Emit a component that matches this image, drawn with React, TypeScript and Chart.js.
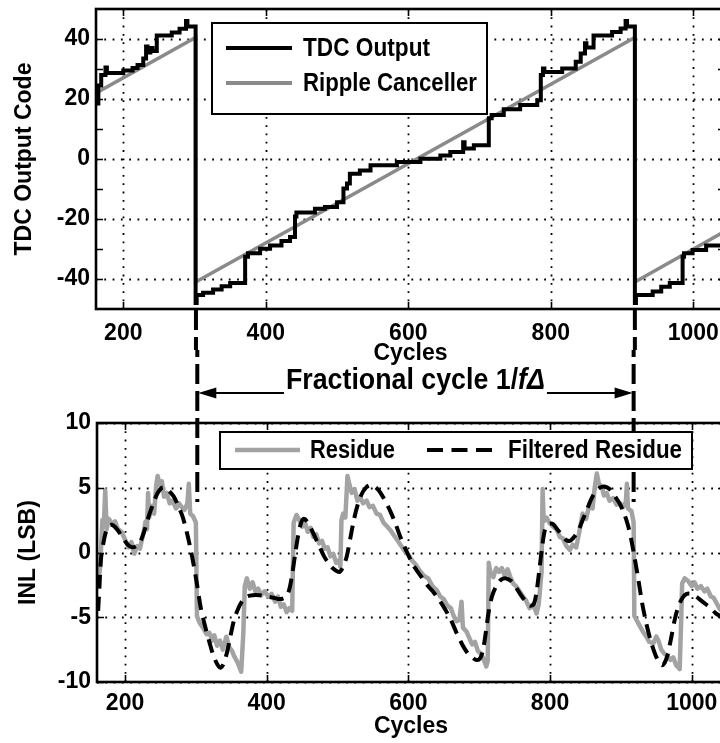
import React, { useEffect, useRef } from "react";
import { Chart, registerables } from "chart.js";

Chart.register(...registerables);

// ---------------- data ----------------
const X_TICKS = [200, 400, 600, 800, 1000];
const TDC_Y_TICKS = [-40, -20, 0, 20, 40];
const TDC_Y_MINOR = [-40, -30, -20, -10, 0, 10, 20, 30, 40];
const INL_Y_TICKS = [-10, -5, 0, 5, 10];

// TDC output (staircase): each code holds from its cycle until the next one
const TDC_CYCLES = [
  162, 165, 169, 175, 177, 200, 213, 220, 228, 232, 234, 238, 241, 247, 268, 279, 288, 290,
  301.5, 303, 312, 326, 338, 350, 371, 375, 392, 406, 422, 434, 441, 443, 469, 483, 500, 509,
  514, 518, 532, 547, 584, 617, 645, 659, 677, 679, 692, 713, 717, 734, 757, 781, 786, 789,
  791, 816, 835, 842, 848, 850, 860, 886, 898, 905, 907, 918, 919.5, 943, 955, 967, 985, 987,
  999, 1018, 1045,
];
const TDC_CODES = [
  18.5, 24.5, 28, 30.5, 28.7, 29.5, 30.3, 31.3, 33.5, 37.5, 35.5, 37, 36, 41.2, 42.2, 43.4, 46, 44.2,
  -48, -45.3, -44.6, -43.5, -42.4, -41.3, -32.6, -31.4, -29.9, -28.8, -27.3, -26, -19.2, -17.8, -16.6, -16, -14.4, -9.8,
  -8.2, -4.9, -3.8, -2.1, -1, 0.1, 1.2, 2.3, 5.6, 3.5, 4.6, 13.6, 14.7, 16.6, 18, 19.6, 28, 30.2,
  29, 30.2, 32.4, 35.2, 38.6, 37.2, 41.2, 42.3, 43.5, 46, 44.2, -48, -45.3, -44.2, -42.6, -41.3, -32.6, -31.4,
  -30.3, -28.8, -28.8,
];

// Ripple canceller (sawtooth)
const CANCELLER_CYCLES = [162, 301.5, 301.5, 918, 918, 1045];
const CANCELLER_CODES = [22, 40.5, -41, 40.5, -41, -24];

// Residue (INL)
const RESIDUE_CYCLES = [
  162, 165, 168, 170, 172, 174, 177, 182, 186, 190, 195, 200, 205, 209, 213, 217, 221, 226, 229, 231,
  232.5, 234, 238, 241, 244, 246, 249, 252, 255, 259, 263, 267, 272, 276, 280, 284, 288, 290, 292, 296,
  300, 301.5, 305, 310, 315, 319, 323, 326, 330, 334, 338, 343, 347, 351, 354, 359, 364, 367, 369, 372,
  376, 380, 384, 388, 392, 397, 402, 407, 412, 416, 420, 424, 428, 432, 436, 438, 442, 446, 450, 454,
  458, 462, 466, 470, 474, 478, 482, 486, 490, 494, 498, 502, 504, 505.5, 508, 511, 514, 517, 520, 524,
  528, 532, 536, 541, 545, 550, 555, 560, 565, 570, 575, 580, 585, 590, 595, 600, 605, 610, 616, 622,
  628, 634, 640, 645, 650, 655, 660, 664, 668, 672, 675, 677, 682, 686, 690, 694, 698, 702, 706, 710,
  712, 713.5, 716, 720, 724, 728, 732, 736, 740, 744, 748, 752, 757, 762, 766, 771, 776, 781, 784, 788,
  789.5, 791, 795, 799, 804, 809, 814, 818, 823, 828, 832, 837, 841, 846, 851, 856, 860, 863, 866, 869,
  873, 876, 880, 884, 889, 894, 899, 903, 907, 908.5, 910, 915, 918, 919, 923, 927, 931, 936, 940, 946,
  950, 953, 957, 961, 966, 970, 974, 978, 983, 985, 986.5, 990, 995, 1000, 1004, 1008, 1013, 1018, 1022, 1027,
  1031, 1035, 1040, 1047,
];
const RESIDUE_INL = [
  -2.5, -1.0, 2.5, 2.0, 4.8, 1.8, 2.6, 2.2, 2.4, 1.8, 1.6, 1.0, 0.4, 0.8, -0.1, 0.5, 0.3, 1.5, 2.4, 1.8,
  4.6, 2.7, 3.6, 3.0, 5.2, 5.9, 5.2, 5.5, 4.3, 4.6, 3.8, 4.0, 3.4, 3.8, 3.5, 3.3, 3.8, 5.3, 3.0, 2.8,
  2.3, -4.9, -5.4, -5.8, -6.3, -6.2, -6.8, -6.4, -7.2, -6.8, -7.5, -6.5, -7.3, -7.6, -8.0, -8.5, -9.2, -6.2, -2.6, -2.0,
  -2.8, -2.3, -3.0, -2.8, -3.3, -3.0, -3.4, -3.2, -3.8, -3.4, -4.2, -4.0, -4.6, -4.3, -4.5, 2.3, 2.9, 2.5, 2.0, 2.3,
  1.6, 1.9, 1.2, 1.4, 0.7, 0.9, 0.3, 0.4, -0.3, -0.1, -0.8, -0.6, -1.1, 2.5, 3.0, 2.7, 5.9, 5.2, 4.6, 4.9,
  4.0, 4.3, 3.8, 4.0, 3.5, 3.6, 3.0, 2.9, 2.3, 2.0, 1.7, 1.3, 0.9, 0.5, 0.1, -0.2, -0.6, -0.9, -1.4, -1.8,
  -2.0, -2.6, -2.9, -3.4, -3.6, -4.1, -4.3, -4.9, -5.3, -5.2, -3.8, -5.8, -6.1, -6.6, -7.1, -6.9, -7.6, -7.8, -8.2, -8.8,
  -8.4, -0.8, -1.6, -1.9, -1.2, -1.5, -1.2, -1.8, -1.3, -1.9, -2.4, -2.6, -3.0, -3.4, -3.7, -4.3, -4.0, -4.7, -4.0, -1.5,
  4.9, 2.4, 2.7, 2.3, 2.0, 1.8, 1.2, 1.1, 0.5, 0.2, 0.6, 0.4, 1.5, 3.0, 2.6, 3.8, 3.4, 5.0, 6.1, 5.3,
  5.1, 4.4, 4.6, 4.0, 4.2, 3.7, 3.8, 3.5, 3.9, 5.3, 3.4, 3.2, 2.3, -4.9, -5.3, -5.7, -6.1, -6.5, -6.9, -7.0,
  -6.5, -6.8, -7.5, -7.8, -8.0, -8.3, -8.1, -8.7, -9.0, -5.5, -2.4, -2.0, -2.2, -2.6, -2.3, -2.8, -2.6, -3.0, -2.8, -3.4,
  -3.5, -3.9, -4.4, -4.6,
];

// Filtered residue
const FILTERED_CYCLES = [
  162, 164, 166, 169, 173, 178, 183, 190, 197, 204, 210, 216, 222, 228, 234, 240, 246, 252, 257, 263,
  269, 275, 281, 287, 292, 297, 302, 307, 313, 319, 325, 331, 335, 339, 344, 349, 354, 360, 366, 372,
  380, 390, 400, 410, 418, 425, 431, 435, 440, 444, 448, 452, 457, 463, 469, 475, 481, 487, 493, 498,
  503, 508, 513, 518, 523, 528, 534, 540, 546, 552, 558, 564, 570, 576, 582, 588, 594, 600, 606, 612,
  620, 628, 636, 644, 652, 660, 668, 676, 684, 690, 696, 701, 705, 709, 713, 718, 724, 731, 738, 745,
  752, 759, 766, 772, 777, 781, 785, 789, 793, 798, 804, 810, 816, 822, 828, 834, 840, 846, 852, 858,
  864, 870, 877, 884, 891, 898, 904, 910, 915, 920, 925, 930, 936, 942, 948, 953, 958, 962, 966, 971,
  976, 981, 987, 993, 999, 1006, 1013, 1020, 1027, 1034, 1040, 1047,
];
const FILTERED_INL = [
  -4.5, -2.5, -0.5, 0.6, 1.6, 2.1, 2.1, 1.7, 1.1, 0.6, 0.4, 0.5, 0.9, 1.8, 2.9, 3.8, 4.6, 5.0, 5.0, 4.7,
  4.3, 3.6, 2.8, 1.6, 0.4, -1.0, -2.6, -4.3, -5.7, -6.9, -8.0, -8.7, -8.9, -8.6, -7.7, -6.4, -5.2, -4.3, -3.7, -3.4,
  -3.3, -3.3, -3.4, -3.5, -3.6, -3.5, -3.0, -2.0, -0.2, 1.2, 2.2, 2.6, 2.4, 1.8, 1.1, 0.4, -0.3, -0.8, -1.2, -1.4,
  -1.5, -1.1, -0.3, 1.1, 2.5, 3.6, 4.5, 5.0, 5.2, 5.1, 4.8, 4.3, 3.7, 3.0, 2.2, 1.3, 0.5, -0.2, -0.9, -1.4,
  -2.0, -2.6, -3.1, -3.7, -4.4, -5.2, -6.2, -7.1, -7.8, -8.1, -8.3, -8.2, -7.6, -6.3, -4.7, -3.4, -2.6, -2.1, -2.0, -2.2,
  -2.7, -3.3, -3.8, -4.1, -4.0, -3.0, -1.3, 0.5, 1.8, 2.2, 2.2, 1.8, 1.4, 1.0, 0.9, 1.2, 1.7, 2.5, 3.3, 4.1,
  4.7, 5.0, 5.1, 4.9, 4.4, 3.8, 3.1, 2.1, 0.9, -0.6, -2.2, -3.9, -5.5, -6.8, -7.8, -8.4, -8.7, -8.5, -7.9, -6.6,
  -5.2, -4.2, -3.5, -3.2, -3.2, -3.4, -3.7, -4.0, -4.3, -4.7, -4.9, -5.1,
];

// Fractional-cycle boundaries (cycles) and where the divider stops in the INL plot
const PERIOD_BOUNDS = [302, 918];
const DIVIDER_END_INL = 3.9;

// ---------------- styling ----------------
const SANS = '"Liberation Sans", Arial, sans-serif';
const GRAY_CANCEL = "#8a8a8a";
const GRAY_RESIDUE = "#a3a3a3";
const DASH_DIVIDER = [20, 7];
const DASH_FILTER = [14, 8];

const pts = (xs: number[], ys: number[]) => xs.map((x, i) => ({ x, y: ys[i] }));

function framePlugin(gridY: number[], tickY: number[]) {
  return {
    id: "frame",
    beforeDatasetsDraw(chart: any) {
      const { ctx, chartArea: a, scales } = chart;
      ctx.save();
      ctx.strokeStyle = "#000";
      ctx.lineWidth = 1.8;
      ctx.setLineDash([1.8, 6.5]);
      ctx.beginPath();
      for (const v of X_TICKS) {
        const px = Math.round(scales.x.getPixelForValue(v)) + 0.5;
        ctx.moveTo(px, a.top);
        ctx.lineTo(px, a.bottom);
      }
      for (const v of gridY) {
        const py = Math.round(scales.y.getPixelForValue(v)) + 0.5;
        ctx.moveTo(a.left, py);
        ctx.lineTo(a.right, py);
      }
      ctx.stroke();
      ctx.restore();
    },
    afterDatasetsDraw(chart: any) {
      const { ctx, chartArea: a, scales } = chart;
      ctx.save();
      ctx.strokeStyle = "#000";
      ctx.setLineDash([]);
      ctx.lineWidth = 1.6;
      ctx.beginPath();
      for (const v of X_TICKS) {
        const px = Math.round(scales.x.getPixelForValue(v)) + 0.5;
        ctx.moveTo(px, a.bottom);
        ctx.lineTo(px, a.bottom - 7);
        ctx.moveTo(px, a.top);
        ctx.lineTo(px, a.top + 7);
      }
      for (const v of tickY) {
        const py = Math.round(scales.y.getPixelForValue(v)) + 0.5;
        ctx.moveTo(a.left, py);
        ctx.lineTo(a.left + 7, py);
        ctx.moveTo(a.right, py);
        ctx.lineTo(a.right - 7, py);
      }
      ctx.stroke();
      ctx.lineWidth = 2.6;
      ctx.strokeRect(a.left, a.top, a.right - a.left, a.bottom - a.top);
      ctx.restore();
    },
  };
}

function legendLine(ctx: any, x1: number, x2: number, y: number, color: string, width: number, dash: number[]) {
  ctx.save();
  ctx.strokeStyle = color;
  ctx.lineWidth = width;
  ctx.setLineDash(dash);
  ctx.beginPath();
  ctx.moveTo(x1, y);
  ctx.lineTo(x2, y);
  ctx.stroke();
  ctx.restore();
}

function legendText(ctx: any, text: string, x: number, y: number, maxW: number) {
  ctx.save();
  ctx.fillStyle = "#000";
  ctx.font = `bold 25px ${SANS}`;
  ctx.textBaseline = "middle";
  ctx.textAlign = "left";
  ctx.fillText(text, x, y, maxW);
  ctx.restore();
}

function legendBox(ctx: any, x1: number, y1: number, x2: number, y2: number) {
  ctx.save();
  ctx.fillStyle = "#fff";
  ctx.fillRect(x1, y1, x2 - x1, y2 - y1);
  ctx.strokeStyle = "#000";
  ctx.lineWidth = 2;
  ctx.strokeRect(x1, y1, x2 - x1, y2 - y1);
  ctx.restore();
}

const BOTTOM_CANVAS_TOP = 350;
const TOP_DIVIDER_START = 310;

const topPlugin = {
  id: "topDecor",
  afterDraw(chart: any) {
    const { ctx, scales } = chart;
    // divider lines below the TDC plot
    ctx.save();
    ctx.strokeStyle = "#000";
    ctx.lineWidth = 4;
    ctx.setLineDash(DASH_DIVIDER);
    ctx.beginPath();
    for (const b of PERIOD_BOUNDS) {
      const px = scales.x.getPixelForValue(b);
      ctx.moveTo(px, TOP_DIVIDER_START);
      ctx.lineTo(px, BOTTOM_CANVAS_TOP);
    }
    ctx.stroke();
    ctx.restore();
    // legend
    legendBox(ctx, 212, 23, 487, 114);
    legendLine(ctx, 226, 292, 48, "#000", 4, []);
    legendLine(ctx, 226, 292, 83, GRAY_CANCEL, 4, []);
    legendText(ctx, "TDC Output", 303, 49, 127);
    legendText(ctx, "Ripple Canceller", 303, 84, 174);
  },
};

function drawArrowHead(ctx: any, tipX: number, y: number, dir: number) {
  ctx.beginPath();
  ctx.moveTo(tipX, y);
  ctx.lineTo(tipX + dir * 18, y - 5.5);
  ctx.lineTo(tipX + dir * 18, y + 5.5);
  ctx.closePath();
  ctx.fill();
}

const bottomPlugin = {
  id: "bottomDecor",
  afterDraw(chart: any) {
    const { ctx, scales } = chart;
    const xs = PERIOD_BOUNDS.map((b) => scales.x.getPixelForValue(b));
    const yEnd = scales.y.getPixelForValue(DIVIDER_END_INL);
    // divider lines
    ctx.save();
    ctx.strokeStyle = "#000";
    ctx.lineWidth = 4;
    ctx.setLineDash(DASH_DIVIDER);
    ctx.lineDashOffset = BOTTOM_CANVAS_TOP - TOP_DIVIDER_START;
    ctx.beginPath();
    for (const px of xs) {
      ctx.moveTo(px, 0);
      ctx.lineTo(px, yEnd);
    }
    ctx.stroke();
    ctx.restore();

    // double arrow with label
    const arrowY = 43;
    const baseY = 39;
    const size = 29;
    const parts = [
      { t: "Fractional cycle 1/", f: `bold ${size}px ${SANS}` },
      { t: "f", f: `italic bold ${size}px ${SANS}` },
      { t: "\u0394", f: `italic bold ${size}px ${SANS}` },
    ];
    ctx.save();
    ctx.fillStyle = "#000";
    ctx.textBaseline = "alphabetic";
    ctx.textAlign = "left";
    let total = 0;
    const widths = parts.map((p) => {
      ctx.font = p.f;
      const w = ctx.measureText(p.t).width;
      total += w;
      return w;
    });
    const target = 259;
    const k = Math.min(1, target / total);
    const cx = (xs[0] + xs[1]) / 2;
    const tStart = cx - (total * k) / 2;
    let x = tStart;
    parts.forEach((p, i) => {
      ctx.font = p.f;
      ctx.fillText(p.t, x, baseY, widths[i] * k);
      x += widths[i] * k;
    });
    const tEnd = x;
    ctx.strokeStyle = "#000";
    ctx.lineWidth = 2.2;
    ctx.beginPath();
    ctx.moveTo(xs[0] + 16, arrowY);
    ctx.lineTo(tStart - 2, arrowY);
    ctx.moveTo(tEnd + 2, arrowY);
    ctx.lineTo(xs[1] - 16, arrowY);
    ctx.stroke();
    drawArrowHead(ctx, xs[0] + 1, arrowY, 1);
    drawArrowHead(ctx, xs[1] - 1, arrowY, -1);
    ctx.restore();

    // legend
    legendBox(ctx, 220, 82, 692, 119);
    legendLine(ctx, 235, 300, 100, GRAY_RESIDUE, 4.5, []);
    legendText(ctx, "Residue", 310, 101, 85);
    legendLine(ctx, 427, 492, 100, "#000", 4, [16, 8.5]);
    legendText(ctx, "Filtered Residue", 508, 101, 174);
  },
};

function axisOptions(opts: any) {
  const tickFont = { family: SANS, size: 23, weight: "bold" as const };
  const titleFont = { family: SANS, size: 23, weight: "bold" as const };
  return {
    x: {
      type: "linear",
      min: opts.xMin,
      max: opts.xMax,
      afterFit: (s: any) => {
        s.height = opts.xHeight;
        s.paddingLeft = 0;
        s.paddingRight = 0;
      },
      afterBuildTicks: (s: any) => {
        s.ticks = X_TICKS.map((value) => ({ value }));
      },
      grid: { display: false, drawTicks: false },
      border: { display: false },
      ticks: {
        color: "#000",
        font: tickFont,
        padding: opts.xPad,
        autoSkip: false,
        maxRotation: 0,
        callback: (v: any) => String(v),
      },
      title: {
        display: true,
        text: "Cycles",
        color: "#000",
        font: titleFont,
        padding: { top: 0, bottom: 3 },
      },
    },
    y: {
      type: "linear",
      min: opts.yMin,
      max: opts.yMax,
      afterFit: (s: any) => {
        s.width = opts.yWidth;
        s.paddingTop = 0;
        s.paddingBottom = 0;
      },
      afterBuildTicks: (s: any) => {
        s.ticks = opts.yTicks.map((value: number) => ({ value }));
      },
      grid: { display: false, drawTicks: false },
      border: { display: false },
      ticks: {
        color: "#000",
        font: tickFont,
        padding: 6,
        autoSkip: false,
        callback: (v: any) => String(v),
      },
      title: {
        display: true,
        text: opts.yTitle,
        color: "#000",
        font: titleFont,
        padding: { top: opts.yTitlePad, bottom: 0 },
      },
    },
  };
}

export default function App() {
  const topRef = useRef<HTMLCanvasElement>(null);
  const botRef = useRef<HTMLCanvasElement>(null);

  useEffect(() => {
    const topChart = new Chart(topRef.current as HTMLCanvasElement, {
      type: "line",
      data: {
        datasets: [
          {
            label: "TDC Output",
            data: pts(TDC_CYCLES, TDC_CODES),
            borderColor: "#000",
            borderWidth: 4,
            pointRadius: 0,
            stepped: true,
            fill: false,
          },
          {
            label: "Ripple Canceller",
            data: pts(CANCELLER_CYCLES, CANCELLER_CODES),
            borderColor: GRAY_CANCEL,
            borderWidth: 3.5,
            pointRadius: 0,
            tension: 0,
            fill: false,
          },
        ],
      },
      options: {
        animation: false,
        responsive: false,
        maintainAspectRatio: false,
        events: [],
        layout: { padding: { top: 9, right: 35, left: 0, bottom: 0 } },
        plugins: { legend: { display: false }, tooltip: { enabled: false }, title: { display: false } },
        scales: axisOptions({
          xMin: 161.7,
          xMax: 1044.5,
          xHeight: 61,
          xPad: 11,
          yMin: -50,
          yMax: 50,
          yWidth: 96,
          yTicks: TDC_Y_TICKS,
          yTitle: "TDC Output Code",
          yTitlePad: 11,
        }) as any,
      },
      plugins: [framePlugin(TDC_Y_TICKS, TDC_Y_MINOR), topPlugin],
    } as any);

    const botChart = new Chart(botRef.current as HTMLCanvasElement, {
      type: "line",
      data: {
        datasets: [
          {
            label: "Filtered Residue",
            data: pts(FILTERED_CYCLES, FILTERED_INL),
            borderColor: "#000",
            borderWidth: 4,
            borderDash: DASH_FILTER,
            pointRadius: 0,
            tension: 0.3,
            fill: false,
          },
          {
            label: "Residue",
            data: pts(RESIDUE_CYCLES, RESIDUE_INL),
            borderColor: GRAY_RESIDUE,
            borderWidth: 4.5,
            borderJoinStyle: "round",
            pointRadius: 0,
            tension: 0,
            fill: false,
          },
        ],
      },
      options: {
        animation: false,
        responsive: false,
        maintainAspectRatio: false,
        events: [],
        layout: { padding: { top: 73, right: 35, left: 0, bottom: 0 } },
        plugins: { legend: { display: false }, tooltip: { enabled: false }, title: { display: false } },
        scales: axisOptions({
          xMin: 160.4,
          xMax: 1047,
          xHeight: 61,
          xPad: 8,
          yMin: -10,
          yMax: 10,
          yWidth: 97,
          yTicks: INL_Y_TICKS,
          yTitle: "INL (LSB)",
          yTitlePad: 15,
        }) as any,
      },
      plugins: [framePlugin(INL_Y_TICKS, INL_Y_TICKS), bottomPlugin],
    } as any);

    return () => {
      topChart.destroy();
      botChart.destroy();
    };
  }, []);

  return (
    <div
      style={{
        position: "absolute",
        left: 0,
        top: 0,
        width: 720,
        height: 743,
        overflow: "hidden",
        background: "#fff",
      }}
    >
      <canvas
        ref={topRef}
        width={760}
        height={370}
        style={{ position: "absolute", left: 0, top: 0, width: 760, height: 370 }}
      />
      <canvas
        ref={botRef}
        width={760}
        height={393}
        style={{ position: "absolute", left: 0, top: BOTTOM_CANVAS_TOP, width: 760, height: 393 }}
      />
    </div>
  );
}
